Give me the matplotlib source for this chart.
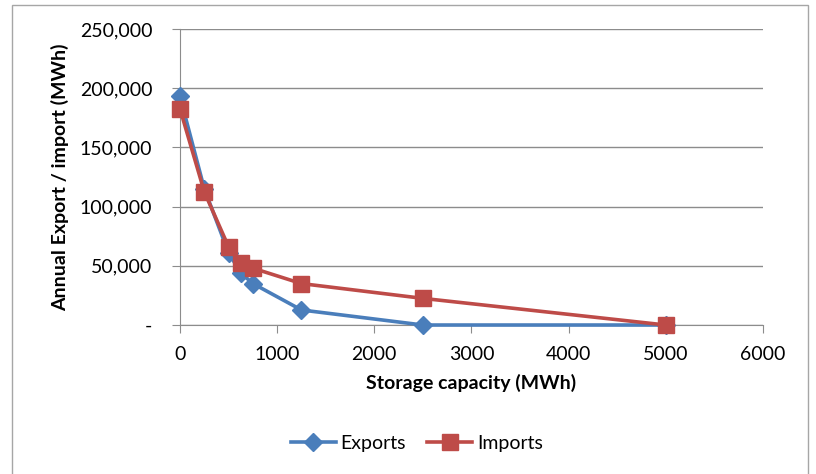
import matplotlib.pyplot as plt
from matplotlib.patches import Rectangle
from matplotlib.ticker import FuncFormatter

# storage capacity (MWh) and annual energy (MWh)
capacity = [0, 250, 500, 625, 750, 1250, 2500, 5000]
exports = [193000, 115000, 61000, 44000, 35000, 12700, 0, 0]
imports = [182500, 112500, 66000, 52500, 48000, 35000, 22500, 0]

plt.rcParams['font.family'] = ['Lato', 'DejaVu Sans']

fig = plt.figure(figsize=(8.16, 4.74), dpi=100)
ax = fig.add_axes([0.2206, 0.3143, 0.7144, 0.6245])

blue = '#4A7EBB'
red = '#BE4B48'
ax.plot(capacity, exports, color=blue, lw=2.6, marker='D', ms=9,
        label='Exports', clip_on=False, zorder=3)
ax.plot(capacity, imports, color=red, lw=2.6, marker='s', ms=11,
        label='Imports', clip_on=False, zorder=4)

ax.set_xlim(0, 6000)
ax.set_ylim(0, 250000)
ax.set_xticks(range(0, 6001, 1000))
ax.set_yticks(range(0, 250001, 50000))
ax.yaxis.set_major_formatter(FuncFormatter(lambda v, p: '-' if v == 0 else f'{int(v):,}'))
ax.grid(axis='y', color='#8c8c8c', lw=1)
ax.set_axisbelow(True)
for s in ['top', 'right']:
    ax.spines[s].set_visible(False)
for s in ['left', 'bottom']:
    ax.spines[s].set_color('#8c8c8c')
ax.tick_params(colors='#8c8c8c', labelcolor='black', labelsize=14, length=6)
ax.tick_params(axis='y', pad=14)
ax.tick_params(axis='x', pad=9)
ax.set_xlabel('Storage capacity (MWh)', fontsize=14, fontweight='bold', labelpad=8)
ax.set_ylabel('Annual Export / import (MWh)', fontsize=14, fontweight='bold', labelpad=8)

fig.legend(loc='center', bbox_to_anchor=(0.511, 0.065), ncol=2, frameon=False,
           fontsize=14, handlelength=2.3, handletextpad=0.25, columnspacing=1.1)

# outer chart frame
fig.patches.append(Rectangle((12 / 816, -0.01), 796 / 816, 1 - 5 / 474 + 0.01,
                             transform=fig.transFigure, fill=False,
                             edgecolor='#a6a6a6', lw=1))

fig.savefig('out.png', dpi=100)
